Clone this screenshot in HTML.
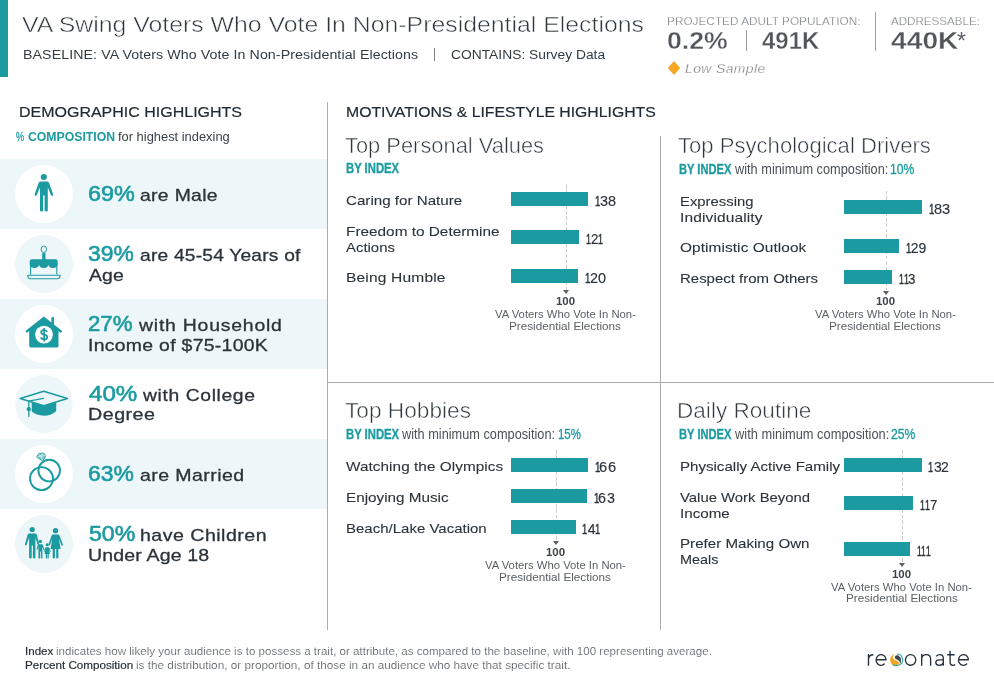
<!DOCTYPE html>
<html><head><meta charset="utf-8"><title>VA Swing Voters Who Vote In Non-Presidential Elections</title>
<style>
html,body{margin:0;padding:0;background:#fff;}
body{width:994px;height:693px;position:relative;overflow:hidden;font-family:"Liberation Sans",sans-serif;}
#txt{position:absolute;left:0;top:0;width:994px;height:693px;will-change:transform;}
.t{position:absolute;white-space:pre;line-height:1;transform-origin:0 50%;}
.b{position:absolute;background:#1b9ba1;height:13.5px;}
.r{position:absolute;}
.dl{position:absolute;width:1px;background:repeating-linear-gradient(to bottom,#cbcdcf 0,#cbcdcf 3.5px,transparent 3.5px,transparent 5.4px);}
.ar{position:absolute;width:0;height:0;border-left:3.8px solid transparent;border-right:3.8px solid transparent;border-top:4px solid #5a5f64;}
svg{position:absolute;overflow:visible;}
</style></head><body>
<!-- header accent + separators -->
<div class="r" style="left:0;top:0;width:8px;height:77px;background:#1b9ba1"></div>
<div class="r" style="left:434px;top:48px;width:1px;height:13px;background:#7d8186"></div>
<div class="r" style="left:746px;top:30px;width:1px;height:21px;background:#9a9da0"></div>
<div class="r" style="left:875px;top:12px;width:1px;height:39px;background:#9a9da0"></div>
<svg style="left:0;top:0" width="994" height="90"><path d="M674 61 L680.2 68 L674 75 L667.8 68 Z" fill="#f5a623"/></svg>
<!-- demographic row stripes -->
<div class="r" style="left:0;top:159px;width:327px;height:70px;background:#edf6f8"></div>
<div class="r" style="left:0;top:299px;width:327px;height:70px;background:#edf6f8"></div>
<div class="r" style="left:0;top:439px;width:327px;height:70px;background:#edf6f8"></div>
<!-- icon discs -->
<div class="r" style="left:15px;top:165px;width:58px;height:58px;border-radius:50%;background:#fff"></div>
<div class="r" style="left:15px;top:235px;width:58px;height:58px;border-radius:50%;background:#edf6f8"></div>
<div class="r" style="left:15px;top:305px;width:58px;height:58px;border-radius:50%;background:#fff"></div>
<div class="r" style="left:15px;top:375px;width:58px;height:58px;border-radius:50%;background:#edf6f8"></div>
<div class="r" style="left:15px;top:445px;width:58px;height:58px;border-radius:50%;background:#fff"></div>
<div class="r" style="left:15px;top:515px;width:58px;height:58px;border-radius:50%;background:#edf6f8"></div>
<!-- dividers -->
<div class="r" style="left:327px;top:102px;width:1px;height:528px;background:#a9abad"></div>
<div class="r" style="left:660px;top:136px;width:1px;height:494px;background:#a9abad"></div>
<div class="r" style="left:327px;top:382px;width:667px;height:1px;background:#a9abad"></div>
<!-- Q1 bars -->
<div class="dl" style="left:566px;top:183.5px;height:106px"></div>
<div class="b" style="left:511px;top:192.4px;width:77.2px"></div>
<div class="b" style="left:511px;top:230.2px;width:67.8px"></div>
<div class="b" style="left:511px;top:269.3px;width:67.1px"></div>
<div class="ar" style="left:562.7px;top:290px"></div>
<!-- Q2 bars -->
<div class="dl" style="left:886px;top:191.3px;height:99px"></div>
<div class="b" style="left:844px;top:200.3px;width:78px"></div>
<div class="b" style="left:844px;top:239.3px;width:55px"></div>
<div class="b" style="left:844px;top:270.1px;width:48.1px"></div>
<div class="ar" style="left:882.7px;top:290.5px"></div>
<!-- Q3 bars -->
<div class="dl" style="left:556px;top:450.3px;height:90.2px"></div>
<div class="b" style="left:511px;top:458.2px;width:77.2px"></div>
<div class="b" style="left:511px;top:489.2px;width:75.8px"></div>
<div class="b" style="left:511px;top:520.3px;width:65.2px"></div>
<div class="ar" style="left:552.7px;top:541px"></div>
<!-- Q4 bars -->
<div class="dl" style="left:902px;top:450.3px;height:112px"></div>
<div class="b" style="left:844px;top:458.2px;width:78px"></div>
<div class="b" style="left:844px;top:496.3px;width:69.2px"></div>
<div class="b" style="left:844px;top:542.4px;width:65.8px"></div>
<div class="ar" style="left:898.7px;top:563px"></div>
<!-- resonate logo -->
<svg style="left:0;top:0" width="994" height="693" viewBox="0 0 994 693" fill="none" stroke="#26303b" stroke-width="1.35" stroke-linecap="butt" stroke-linejoin="round">
<path d="M868.5 654 V665.7 M868.5 659.4 Q868.7 654.7 873.4 654.7"/>
<path d="M876.5 659.7 H886 A4.95 5.35 0 1 0 884.7 663.6"/>
<ellipse cx="910.6" cy="659.9" rx="5.15" ry="5.35"/>
<path d="M921.7 654 V665.7 M921.7 659 Q921.9 654.6 926.3 654.6 Q930.6 654.6 930.6 659 V665.7"/>
<path d="M936.1 656.2 Q937.8 654.6 939.9 654.6 Q943.3 654.6 943.3 658.2 V665.7 M943.3 659.8 H939.3 Q935.8 659.8 935.8 662.6 Q935.8 665.3 939.1 665.3 Q942.3 665.3 943.3 662.8"/>
<path d="M950.1 650.8 V662.6 Q950.1 665.3 952.8 665.3 Q954.2 665.3 955.2 664.6 M947.3 654.7 H954.6"/>
<path d="M958.9 659.7 H968.4 A4.95 5.35 0 1 0 967.1 663.6"/>
<g stroke="none">
<path d="M894.7 653.9 Q890.3 655.2 890.1 660 Q890.4 664.9 894.9 665.7 Q898.3 665.7 899 663.5 Q899.2 661.4 896 660.5 Q892.7 659.5 893 656.6 Q893.3 654.9 894.7 653.9 Z" fill="#f5a623"/>
<path d="M894.8 656.7 Q895.9 654.9 898.4 655.5 Q901 657 901 660.6 Q900.9 663.2 899.9 664.4 Q900.3 660.7 897.4 659.7 Q894.4 658.9 894.8 656.7 Z" fill="#3f464d"/>
<path d="M896.9 654 A5.7 5.7 0 0 1 899.2 664.9 M892.4 664.8 Q895.6 666.3 899.2 664.9" fill="none" stroke="#2aa6b0" stroke-width="1.1"/>
</g>
</svg>

<svg style="left:0;top:0" width="330" height="693" viewBox="0 0 330 693" fill="#1b9ba1" stroke="none">
<!-- man -->
<g>
<circle cx="43.8" cy="177" r="3.05"/>
<path d="M40.6 181.6 H47 Q48.6 181.6 49.1 183 L53.1 194.3 Q53.4 195.5 52.4 195.8 Q51.3 196.1 50.9 195 L47.8 187.2 V210.5 Q47.8 211.6 46.4 211.6 Q44.6 211.6 44.6 210.5 V195.6 H43.1 V210.5 Q43.1 211.6 41.5 211.6 Q40 211.6 40 210.5 V187.2 L36.8 195 Q36.4 196.1 35.3 195.8 Q34.3 195.5 34.7 194.3 L38.6 183 Q39.1 181.6 40.6 181.6 Z"/>
</g>
<!-- cake -->
<g>
<ellipse cx="43.8" cy="249.3" rx="2.7" ry="3.3" fill="none" stroke="#1b9ba1" stroke-width="1"/>
<rect x="42.2" y="253.2" width="3.3" height="7"/>
<path d="M29.7 261.6 Q29.7 259.3 32 259.3 H55.4 Q57.7 259.3 57.7 261.6 V264.6 a4.67 3.5 0 0 1 -9.33 0 a4.67 3.5 0 0 1 -9.33 0 a4.67 3.5 0 0 1 -9.34 0 Z"/>
<path d="M30.6 264 V274.6 M56.8 264 V274.6" fill="none" stroke="#1b9ba1" stroke-width="1.1"/>
<path d="M27.7 275.2 H60.1 Q60.1 278.7 57.2 278.7 H30.6 Q27.7 278.7 27.7 275.2 Z" fill="none" stroke="#1b9ba1" stroke-width="1.1" stroke-linejoin="round"/>
</g>
<!-- house -->
<g>
<path d="M43.8 316.4 L51.4 322.4 V318 Q51.4 317 52.4 317 H53 Q54 317 54 318 V324.4 L61.6 330.4 Q62.5 331.4 61.7 332.2 Q61 332.8 60 332.2 L58.5 331 V346 Q58.5 347.4 57.1 347.4 H30.6 Q29.2 347.4 29.2 346 V331 L27.7 332.2 Q26.7 332.8 26 332.2 Q25.2 331.4 26.1 330.4 Z"/>
<circle cx="44" cy="334.6" r="8.9" fill="#fff"/>
<path d="M47.1 331.9 Q46.2 330.1 44 330.1 Q41.1 330.1 41.1 332.3 Q41.1 334 44.1 334.6 Q47.3 335.3 47.3 337.2 Q47.3 339.4 44.2 339.4 Q41.6 339.4 40.7 337.4 M44.1 327.9 V341.4" fill="none" stroke="#1b9ba1" stroke-width="1.7" stroke-linecap="butt"/>
</g>
<!-- graduation cap -->
<g>
<path d="M43.8 391.3 L67.4 398.5 L43.8 405.8 L20.2 398.5 Z" fill="none" stroke="#1b9ba1" stroke-width="1.5" stroke-linejoin="round"/>
<path d="M31.7 402.1 L43.8 405.9 L56.2 402 V411.2 Q50.5 415.7 43.8 415.7 Q36.4 415.7 31.7 411.6 Z"/>
<path d="M43.4 398.4 L28.8 401.2 V416.4" fill="none" stroke="#1b9ba1" stroke-width="1.3" stroke-linecap="round" stroke-linejoin="round"/>
<circle cx="28.8" cy="409.2" r="2.1"/>
</g>
<!-- rings -->
<g fill="none" stroke="#1b9ba1" stroke-width="1.9">
<circle cx="41.5" cy="478.6" r="11.5"/>
<circle cx="49.2" cy="470.6" r="10.8"/>
<path d="M36.6 457 L38.6 453.8 L43.2 452.9 L45.8 455.3 L43 461.2 Z" fill="#1b9ba1" fill-opacity="0.55" stroke-width="0.9" stroke-linejoin="round"/><path d="M36.6 457 L45.8 455.3 M38.6 453.8 L40.8 456.2 L43.2 452.9 M40.8 456.2 L43 461.2" stroke="#fff" stroke-width="0.5"/>
</g>
<!-- family -->
<g>
<!-- father -->
<circle cx="32.2" cy="529.5" r="2.6"/>
<path d="M29.4 533.6 H35 Q36.4 533.6 36.8 534.8 L39.2 544 Q39.4 545 38.6 545.2 Q37.8 545.3 37.5 544.5 L35.4 537.5 V557.6 Q35.4 558.5 34.2 558.5 Q32.9 558.5 32.9 557.6 V545.6 H31.7 V557.6 Q31.7 558.5 30.4 558.5 Q29.1 558.5 29.1 557.6 V537.5 L26.6 544.8 Q26.2 545.6 25.4 545.3 Q24.6 545 25 544 L27.6 534.8 Q28 533.6 29.4 533.6 Z"/>
<!-- mother -->
<circle cx="55.5" cy="530.7" r="2.6"/>
<path d="M53.2 534.5 H57.9 Q59.2 534.5 59.6 535.7 L62.9 544.6 Q63.1 545.5 62.3 545.7 Q61.6 545.8 61.3 545.1 L58.9 538.6 L60.6 548.9 H58.4 V557.6 Q58.4 558.5 57.3 558.5 Q56.2 558.5 56.2 557.6 V548.9 H54.9 V557.6 Q54.9 558.5 53.8 558.5 Q52.7 558.5 52.7 557.6 V548.9 H50.6 L52.2 538.6 L50 545.1 Q49.7 545.8 49 545.7 Q48.2 545.5 48.4 544.6 L51.5 535.7 Q51.9 534.5 53.2 534.5 Z"/>
<!-- boy -->
<circle cx="40.3" cy="541.5" r="1.7"/>
<path d="M38.9 544.2 H41.8 Q42.6 544.2 42.9 545 L44.4 549.6 L43.5 550 L42.4 547 V558 Q42.4 558.5 41.6 558.5 Q40.8 558.5 40.8 558 V551.6 H40 V558 Q40 558.5 39.2 558.5 Q38.4 558.5 38.4 558 V547 L37.3 550 L36.4 549.6 L37.8 545 Q38.1 544.2 38.9 544.2 Z"/>
<!-- girl -->
<circle cx="47.2" cy="544.8" r="1.5"/>
<path d="M46.1 547.3 H48.4 Q49.1 547.3 49.4 548 L50.8 551.6 L50 552 L49 549.6 L50 554 H48.7 V558 Q48.7 558.5 48.1 558.5 Q47.5 558.5 47.5 558 V554 H47 V558 Q47 558.5 46.4 558.5 Q45.8 558.5 45.8 558 V554 H44.5 L45.5 549.6 L44.5 552 L43.7 551.6 L45.1 548 Q45.4 547.3 46.1 547.3 Z"/>
</g>
</svg>

<div id="txt">
<span class="t" style="left:22.34px;top:14.00px;font-size:22px;color:#2f373e;transform-origin:0 18.00px;transform:scale(1.1286,1.0400);-webkit-text-stroke:0.5px #fff;">VA Swing Voters Who Vote In Non-Presidential Elections</span>
<span class="t" style="left:23.30px;top:49.00px;font-size:12.5px;color:#333b42;transform:scaleX(1.1345);letter-spacing:0.081px;">BASELINE: VA Voters Who Vote In Non-Presidential Elections</span>
<span class="t" style="left:451.00px;top:49.00px;font-size:12.5px;color:#333b42;transform:scaleX(1.1055);">CONTAINS: Survey Data</span>
<span class="t" style="left:666.61px;top:16.00px;font-size:10.5px;color:#72767a;transform:scaleX(1.1245);-webkit-text-stroke:0.25px #fff;">PROJECTED ADULT POPULATION:</span>
<span class="t" style="left:666.51px;top:31.00px;font-size:22.5px;font-weight:700;color:#52565a;transform-origin:0 18.00px;transform:scale(1.1839,1.0800);-webkit-text-stroke:0.3px #fff;">0.2%</span>
<span class="t" style="left:762.29px;top:31.00px;font-size:22.5px;font-weight:700;color:#52565a;transform-origin:0 18.00px;transform:scale(1.0659,1.0800);-webkit-text-stroke:0.3px #fff;">491K</span>
<span class="t" style="left:890.97px;top:16.00px;font-size:10.5px;color:#72767a;transform:scaleX(1.1034);-webkit-text-stroke:0.25px #fff;">ADDRESSABLE:</span>
<span class="t" style="left:890.50px;top:31.00px;font-size:22.5px;font-weight:700;color:#52565a;transform-origin:0 18.00px;transform:scale(1.2540,1.0800);-webkit-text-stroke:0.3px #fff;">440K</span>
<span class="t" style="left:956.72px;top:31.00px;font-size:22.5px;color:#5e6266;transform-origin:0 18.00px;transform:scale(1.0267,1.0800);">*</span>
<span class="t" style="left:685.42px;top:63.00px;font-size:12px;color:#6a6e72;transform:scaleX(1.1578);letter-spacing:0.351px;font-style:italic;-webkit-text-stroke:0.3px #fff;">Low Sample</span>
<span class="t" style="left:18.87px;top:105.00px;font-size:14px;color:#222b33;transform:scaleX(1.1422);-webkit-text-stroke:0.18px currentColor;">DEMOGRAPHIC HIGHLIGHTS</span>
<span class="t" style="left:346.37px;top:105.00px;font-size:14px;color:#222b33;transform:scaleX(1.1269);-webkit-text-stroke:0.18px currentColor;">MOTIVATIONS &amp; LIFESTYLE HIGHLIGHTS</span>
<span class="t" style="left:15.66px;top:130.00px;font-size:13px;color:#1b9ba1;transform-origin:0 11.00px;transform:scale(0.7092,1.0500);-webkit-text-stroke:0.25px currentColor;">%</span>
<span class="t" style="left:28.33px;top:130.00px;font-size:13px;font-weight:700;color:#1b9ba1;transform-origin:0 11.00px;transform:scale(0.9419,1.0500);">COMPOSITION</span>
<span class="t" style="left:118.00px;top:130.00px;font-size:13px;color:#3a4047;transform-origin:0 11.00px;transform:scale(0.9912,1.0500);">for highest indexing</span>
<span class="t" style="left:87.93px;top:183.00px;font-size:22px;color:#1b9ba1;transform:scaleX(1.0623);-webkit-text-stroke:0.6px currentColor;">69%</span>
<span class="t" style="left:140.29px;top:187.00px;font-size:17px;color:#2b333a;transform:scaleX(1.1404);letter-spacing:0.273px;-webkit-text-stroke:0.3px currentColor;">are Male</span>
<span class="t" style="left:87.96px;top:243.00px;font-size:22px;color:#1b9ba1;transform:scaleX(1.0377);-webkit-text-stroke:0.6px currentColor;">39%</span>
<span class="t" style="left:139.60px;top:247.00px;font-size:17px;color:#2b333a;transform:scaleX(1.1293);letter-spacing:0.181px;-webkit-text-stroke:0.3px currentColor;">are 45-54 Years of</span>
<span class="t" style="left:88.83px;top:267.00px;font-size:17px;color:#2b333a;transform:scaleX(1.1426);letter-spacing:0.096px;-webkit-text-stroke:0.3px currentColor;">Age</span>
<span class="t" style="left:87.98px;top:313.00px;font-size:22px;color:#1b9ba1;transform:scaleX(1.0087);-webkit-text-stroke:0.6px currentColor;">27%</span>
<span class="t" style="left:139.07px;top:317.00px;font-size:17px;color:#2b333a;transform:scaleX(1.1411);letter-spacing:0.690px;-webkit-text-stroke:0.3px currentColor;">with Household</span>
<span class="t" style="left:87.64px;top:337.00px;font-size:17px;color:#2b333a;transform:scaleX(1.1415);letter-spacing:0.260px;-webkit-text-stroke:0.3px currentColor;">Income of $75-100K</span>
<span class="t" style="left:88.90px;top:383.00px;font-size:22px;color:#1b9ba1;transform:scaleX(1.0961);-webkit-text-stroke:0.6px currentColor;">40%</span>
<span class="t" style="left:143.07px;top:387.00px;font-size:17px;color:#2b333a;transform:scaleX(1.1347);letter-spacing:0.551px;-webkit-text-stroke:0.3px currentColor;">with College</span>
<span class="t" style="left:87.72px;top:406.00px;font-size:17px;color:#2b333a;transform:scaleX(1.1577);letter-spacing:0.422px;-webkit-text-stroke:0.3px currentColor;">Degree</span>
<span class="t" style="left:87.94px;top:463.00px;font-size:22px;color:#1b9ba1;transform:scaleX(1.0388);-webkit-text-stroke:0.6px currentColor;">63%</span>
<span class="t" style="left:139.59px;top:467.00px;font-size:17px;color:#2b333a;transform:scaleX(1.1490);letter-spacing:0.370px;-webkit-text-stroke:0.3px currentColor;">are Married</span>
<span class="t" style="left:88.68px;top:523.00px;font-size:22px;color:#1b9ba1;transform:scaleX(1.0521);-webkit-text-stroke:0.6px currentColor;">50%</span>
<span class="t" style="left:140.20px;top:527.00px;font-size:17px;color:#2b333a;transform:scaleX(1.1524);letter-spacing:0.410px;-webkit-text-stroke:0.3px currentColor;">have Children</span>
<span class="t" style="left:87.75px;top:547.00px;font-size:17px;color:#2b333a;transform:scaleX(1.1489);letter-spacing:0.138px;-webkit-text-stroke:0.3px currentColor;">Under Age 18</span>
<span class="t" style="left:344.84px;top:135.00px;font-size:21px;color:#2f373e;transform-origin:0 18.00px;transform:scale(1.0417,1.0500);-webkit-text-stroke:0.5px #fff;">Top Personal Values</span>
<span class="t" style="left:678.14px;top:135.00px;font-size:21px;color:#2f373e;transform-origin:0 18.00px;transform:scale(1.0519,1.0500);-webkit-text-stroke:0.5px #fff;">Top Psychological Drivers</span>
<span class="t" style="left:344.84px;top:400.00px;font-size:21px;color:#2f373e;transform-origin:0 18.00px;transform:scale(1.0791,1.0500);-webkit-text-stroke:0.5px #fff;">Top Hobbies</span>
<span class="t" style="left:677.42px;top:400.00px;font-size:21px;color:#2f373e;transform-origin:0 18.00px;transform:scale(1.0756,1.0500);-webkit-text-stroke:0.5px #fff;">Daily Routine</span>
<span class="t" style="left:345.73px;top:162.00px;font-size:13px;font-weight:700;color:#1b9ba1;transform-origin:0 11.00px;transform:scale(0.8680,1.1000);-webkit-text-stroke:0.3px currentColor;">BY INDEX</span>
<span class="t" style="left:679.23px;top:163.00px;font-size:13px;font-weight:700;color:#1b9ba1;transform-origin:0 11.00px;transform:scale(0.8568,1.1000);-webkit-text-stroke:0.3px currentColor;">BY INDEX</span>
<span class="t" style="left:735.14px;top:163.00px;font-size:13px;color:#4a5056;transform-origin:0 11.00px;transform:scale(0.9823,1.0600);">with minimum composition:</span>
<span class="t" style="left:889.72px;top:163.00px;font-size:13px;color:#1b9ba1;transform-origin:0 11.00px;transform:scale(0.9317,1.0600);-webkit-text-stroke:0.3px currentColor;">10%</span>
<span class="t" style="left:345.73px;top:428.00px;font-size:13px;font-weight:700;color:#1b9ba1;transform-origin:0 11.00px;transform:scale(0.8680,1.1000);-webkit-text-stroke:0.3px currentColor;">BY INDEX</span>
<span class="t" style="left:402.04px;top:428.00px;font-size:13px;color:#4a5056;transform-origin:0 11.00px;transform:scale(0.9807,1.0600);">with minimum composition:</span>
<span class="t" style="left:557.58px;top:428.00px;font-size:13px;color:#1b9ba1;transform-origin:0 11.00px;transform:scale(0.8790,1.0600);-webkit-text-stroke:0.3px currentColor;">15%</span>
<span class="t" style="left:679.23px;top:428.00px;font-size:13px;font-weight:700;color:#1b9ba1;transform-origin:0 11.00px;transform:scale(0.8574,1.1000);-webkit-text-stroke:0.3px currentColor;">BY INDEX</span>
<span class="t" style="left:734.94px;top:428.00px;font-size:13px;color:#4a5056;transform-origin:0 11.00px;transform:scale(0.9886,1.0600);">with minimum composition:</span>
<span class="t" style="left:891.00px;top:428.00px;font-size:13px;color:#1b9ba1;transform-origin:0 11.00px;transform:scale(0.9362,1.0600);-webkit-text-stroke:0.3px currentColor;">25%</span>
<span class="t" style="left:346.00px;top:194.00px;font-size:13.5px;color:#2b333a;transform:scaleX(1.1218);-webkit-text-stroke:0.1px currentColor;">Caring for Nature</span>
<span class="t" style="left:345.87px;top:225.00px;font-size:13.5px;color:#2b333a;transform:scaleX(1.1373);-webkit-text-stroke:0.1px currentColor;">Freedom to Determine</span>
<span class="t" style="left:346.38px;top:241.00px;font-size:13.5px;color:#2b333a;transform:scaleX(1.1038);-webkit-text-stroke:0.1px currentColor;">Actions</span>
<span class="t" style="left:345.87px;top:271.00px;font-size:13.5px;color:#2b333a;transform:scaleX(1.1502);letter-spacing:0.151px;-webkit-text-stroke:0.1px currentColor;">Being Humble</span>
<span class="t" style="left:679.69px;top:195.00px;font-size:13.5px;color:#2b333a;transform:scaleX(1.1000);-webkit-text-stroke:0.1px currentColor;">Expressing</span>
<span class="t" style="left:679.60px;top:211.00px;font-size:13.5px;color:#2b333a;transform:scaleX(1.1471);letter-spacing:0.117px;-webkit-text-stroke:0.1px currentColor;">Individuality</span>
<span class="t" style="left:679.50px;top:241.00px;font-size:13.5px;color:#2b333a;transform:scaleX(1.1391);letter-spacing:0.080px;-webkit-text-stroke:0.1px currentColor;">Optimistic Outlook</span>
<span class="t" style="left:679.69px;top:272.00px;font-size:13.5px;color:#2b333a;transform:scaleX(1.1086);-webkit-text-stroke:0.1px currentColor;">Respect from Others</span>
<span class="t" style="left:346.39px;top:460.00px;font-size:13.5px;color:#2b333a;transform:scaleX(1.1342);letter-spacing:0.052px;-webkit-text-stroke:0.1px currentColor;">Watching the Olympics</span>
<span class="t" style="left:345.88px;top:491.00px;font-size:13.5px;color:#2b333a;transform:scaleX(1.1291);-webkit-text-stroke:0.1px currentColor;">Enjoying Music</span>
<span class="t" style="left:345.89px;top:522.00px;font-size:13.5px;color:#2b333a;transform:scaleX(1.1112);-webkit-text-stroke:0.1px currentColor;">Beach/Lake Vacation</span>
<span class="t" style="left:679.59px;top:460.00px;font-size:13.5px;color:#2b333a;transform:scaleX(1.1170);-webkit-text-stroke:0.1px currentColor;">Physically Active Family</span>
<span class="t" style="left:680.07px;top:491.00px;font-size:13.5px;color:#2b333a;transform:scaleX(1.1017);-webkit-text-stroke:0.1px currentColor;">Value Work Beyond</span>
<span class="t" style="left:679.51px;top:507.00px;font-size:13.5px;color:#2b333a;transform:scaleX(1.1254);-webkit-text-stroke:0.1px currentColor;">Income</span>
<span class="t" style="left:679.58px;top:537.00px;font-size:13.5px;color:#2b333a;transform:scaleX(1.1209);-webkit-text-stroke:0.1px currentColor;">Prefer Making Own</span>
<span class="t" style="left:679.61px;top:553.00px;font-size:13.5px;color:#2b333a;transform:scaleX(1.0673);-webkit-text-stroke:0.1px currentColor;">Meals</span>
<span class="t" style="left:594.75px;top:194.00px;font-size:14px;color:#2b333a;transform:scaleX(0.6862);-webkit-text-stroke:0.45px currentColor;">1</span>
<span class="t" style="left:600.03px;top:194.00px;font-size:14px;color:#2b333a;transform:scaleX(1.0293);-webkit-text-stroke:0.15px currentColor;">3</span>
<span class="t" style="left:608.09px;top:194.00px;font-size:14px;color:#2b333a;transform:scaleX(1.0293);-webkit-text-stroke:0.15px currentColor;">8</span>
<span class="t" style="left:585.77px;top:232.00px;font-size:14px;color:#2b333a;transform:scaleX(0.6376);-webkit-text-stroke:0.45px currentColor;">1</span>
<span class="t" style="left:590.68px;top:232.00px;font-size:14px;color:#2b333a;transform:scaleX(0.9564);-webkit-text-stroke:0.15px currentColor;">2</span>
<span class="t" style="left:598.20px;top:232.00px;font-size:14px;color:#2b333a;transform:scaleX(0.6376);-webkit-text-stroke:0.45px currentColor;">1</span>
<span class="t" style="left:584.65px;top:271.00px;font-size:14px;color:#2b333a;transform:scaleX(0.6862);-webkit-text-stroke:0.45px currentColor;">1</span>
<span class="t" style="left:589.94px;top:271.00px;font-size:14px;color:#2b333a;transform:scaleX(1.0293);-webkit-text-stroke:0.15px currentColor;">2</span>
<span class="t" style="left:598.02px;top:271.00px;font-size:14px;color:#2b333a;transform:scaleX(1.0293);-webkit-text-stroke:0.15px currentColor;">0</span>
<span class="t" style="left:928.55px;top:202.00px;font-size:14px;color:#2b333a;transform:scaleX(0.6926);-webkit-text-stroke:0.45px currentColor;">1</span>
<span class="t" style="left:933.92px;top:202.00px;font-size:14px;color:#2b333a;transform:scaleX(1.0389);-webkit-text-stroke:0.15px currentColor;">8</span>
<span class="t" style="left:941.98px;top:202.00px;font-size:14px;color:#2b333a;transform:scaleX(1.0389);-webkit-text-stroke:0.15px currentColor;">3</span>
<span class="t" style="left:905.56px;top:241.00px;font-size:14px;color:#2b333a;transform:scaleX(0.6669);-webkit-text-stroke:0.45px currentColor;">1</span>
<span class="t" style="left:910.70px;top:241.00px;font-size:14px;color:#2b333a;-webkit-text-stroke:0.15px currentColor;">2</span>
<span class="t" style="left:918.48px;top:241.00px;font-size:14px;color:#2b333a;-webkit-text-stroke:0.15px currentColor;">9</span>
<span class="t" style="left:898.57px;top:272.00px;font-size:14px;color:#2b333a;transform:scaleX(0.6340);-webkit-text-stroke:0.45px currentColor;">1</span>
<span class="t" style="left:903.52px;top:272.00px;font-size:14px;color:#2b333a;transform:scaleX(0.6340);-webkit-text-stroke:0.45px currentColor;">1</span>
<span class="t" style="left:908.38px;top:272.00px;font-size:14px;color:#2b333a;transform:scaleX(0.9509);-webkit-text-stroke:0.15px currentColor;">3</span>
<span class="t" style="left:594.75px;top:460.00px;font-size:14px;color:#2b333a;transform:scaleX(0.6958);-webkit-text-stroke:0.45px currentColor;">1</span>
<span class="t" style="left:599.42px;top:460.00px;font-size:14px;color:#2b333a;transform:scaleX(1.0437);-webkit-text-stroke:0.15px currentColor;">6</span>
<span class="t" style="left:607.56px;top:460.00px;font-size:14px;color:#2b333a;transform:scaleX(1.0437);-webkit-text-stroke:0.15px currentColor;">6</span>
<span class="t" style="left:593.76px;top:491.00px;font-size:14px;color:#2b333a;transform:scaleX(0.6830);-webkit-text-stroke:0.45px currentColor;">1</span>
<span class="t" style="left:598.33px;top:491.00px;font-size:14px;color:#2b333a;transform:scaleX(1.0244);-webkit-text-stroke:0.15px currentColor;">6</span>
<span class="t" style="left:606.99px;top:491.00px;font-size:14px;color:#2b333a;transform:scaleX(1.0244);-webkit-text-stroke:0.15px currentColor;">3</span>
<span class="t" style="left:582.46px;top:522.00px;font-size:14px;color:#2b333a;transform:scaleX(0.6669);-webkit-text-stroke:0.45px currentColor;">1</span>
<span class="t" style="left:587.75px;top:522.00px;font-size:14px;color:#2b333a;-webkit-text-stroke:0.15px currentColor;">4</span>
<span class="t" style="left:595.46px;top:522.00px;font-size:14px;color:#2b333a;transform:scaleX(0.6669);-webkit-text-stroke:0.45px currentColor;">1</span>
<span class="t" style="left:928.46px;top:460.00px;font-size:14px;color:#2b333a;transform:scaleX(0.6637);-webkit-text-stroke:0.45px currentColor;">1</span>
<span class="t" style="left:933.57px;top:460.00px;font-size:14px;color:#2b333a;transform:scaleX(0.9956);-webkit-text-stroke:0.15px currentColor;">3</span>
<span class="t" style="left:941.34px;top:460.00px;font-size:14px;color:#2b333a;transform:scaleX(0.9956);-webkit-text-stroke:0.15px currentColor;">2</span>
<span class="t" style="left:919.87px;top:498.00px;font-size:14px;color:#2b333a;transform:scaleX(0.6340);-webkit-text-stroke:0.45px currentColor;">1</span>
<span class="t" style="left:924.82px;top:498.00px;font-size:14px;color:#2b333a;transform:scaleX(0.6340);-webkit-text-stroke:0.45px currentColor;">1</span>
<span class="t" style="left:929.69px;top:498.00px;font-size:14px;color:#2b333a;transform:scaleX(0.9509);-webkit-text-stroke:0.15px currentColor;">7</span>
<span class="t" style="left:916.58px;top:544.00px;font-size:14px;color:#2b333a;transform:scaleX(0.6071);-webkit-text-stroke:0.45px currentColor;">1</span>
<span class="t" style="left:921.31px;top:544.00px;font-size:14px;color:#2b333a;transform:scaleX(0.6071);-webkit-text-stroke:0.45px currentColor;">1</span>
<span class="t" style="left:926.05px;top:544.00px;font-size:14px;color:#2b333a;transform:scaleX(0.6071);-webkit-text-stroke:0.45px currentColor;">1</span>
<span class="t" style="left:555.79px;top:296.00px;font-size:11px;font-weight:700;color:#3d444b;transform:scaleX(1.0409);">100</span>
<span class="t" style="left:494.87px;top:309.00px;font-size:11.5px;color:#5a5f64;transform:scaleX(0.9806);">VA Voters Who Vote In Non-</span>
<span class="t" style="left:509.20px;top:321.00px;font-size:11.5px;color:#5a5f64;transform:scaleX(1.0181);">Presidential Elections</span>
<span class="t" style="left:875.79px;top:296.00px;font-size:11px;font-weight:700;color:#3d444b;transform:scaleX(1.0409);">100</span>
<span class="t" style="left:814.87px;top:309.00px;font-size:11.5px;color:#5a5f64;transform:scaleX(0.9806);">VA Voters Who Vote In Non-</span>
<span class="t" style="left:829.20px;top:321.00px;font-size:11.5px;color:#5a5f64;transform:scaleX(1.0181);">Presidential Elections</span>
<span class="t" style="left:545.99px;top:547.00px;font-size:11px;font-weight:700;color:#3d444b;transform:scaleX(1.0409);">100</span>
<span class="t" style="left:485.07px;top:560.00px;font-size:11.5px;color:#5a5f64;transform:scaleX(0.9806);">VA Voters Who Vote In Non-</span>
<span class="t" style="left:499.40px;top:572.00px;font-size:11.5px;color:#5a5f64;transform:scaleX(1.0181);">Presidential Elections</span>
<span class="t" style="left:892.19px;top:569.00px;font-size:11px;font-weight:700;color:#3d444b;transform:scaleX(1.0409);">100</span>
<span class="t" style="left:831.27px;top:582.00px;font-size:11.5px;color:#5a5f64;transform:scaleX(0.9806);">VA Voters Who Vote In Non-</span>
<span class="t" style="left:845.60px;top:593.00px;font-size:11.5px;color:#5a5f64;transform:scaleX(1.0181);">Presidential Elections</span>
<span class="t" style="left:24.97px;top:646.00px;font-size:10.5px;color:#222b33;transform:scaleX(1.1029);-webkit-text-stroke:0.15px currentColor;">Index</span>
<span class="t" style="left:55.57px;top:646.00px;font-size:10.5px;color:#454b51;transform:scaleX(1.1017);-webkit-text-stroke:0.2px #fff;">indicates how likely your audience is to possess a trait, or attribute, as compared to the baseline, with 100 representing average.</span>
<span class="t" style="left:25.00px;top:660.00px;font-size:10.5px;color:#222b33;transform:scaleX(1.1093);-webkit-text-stroke:0.15px currentColor;">Percent Composition</span>
<span class="t" style="left:135.59px;top:660.00px;font-size:10.5px;color:#454b51;transform:scaleX(1.1193);-webkit-text-stroke:0.2px #fff;">is the distribution, or proportion, of those in an audience who have that specific trait.</span>
</div>
</body></html>
